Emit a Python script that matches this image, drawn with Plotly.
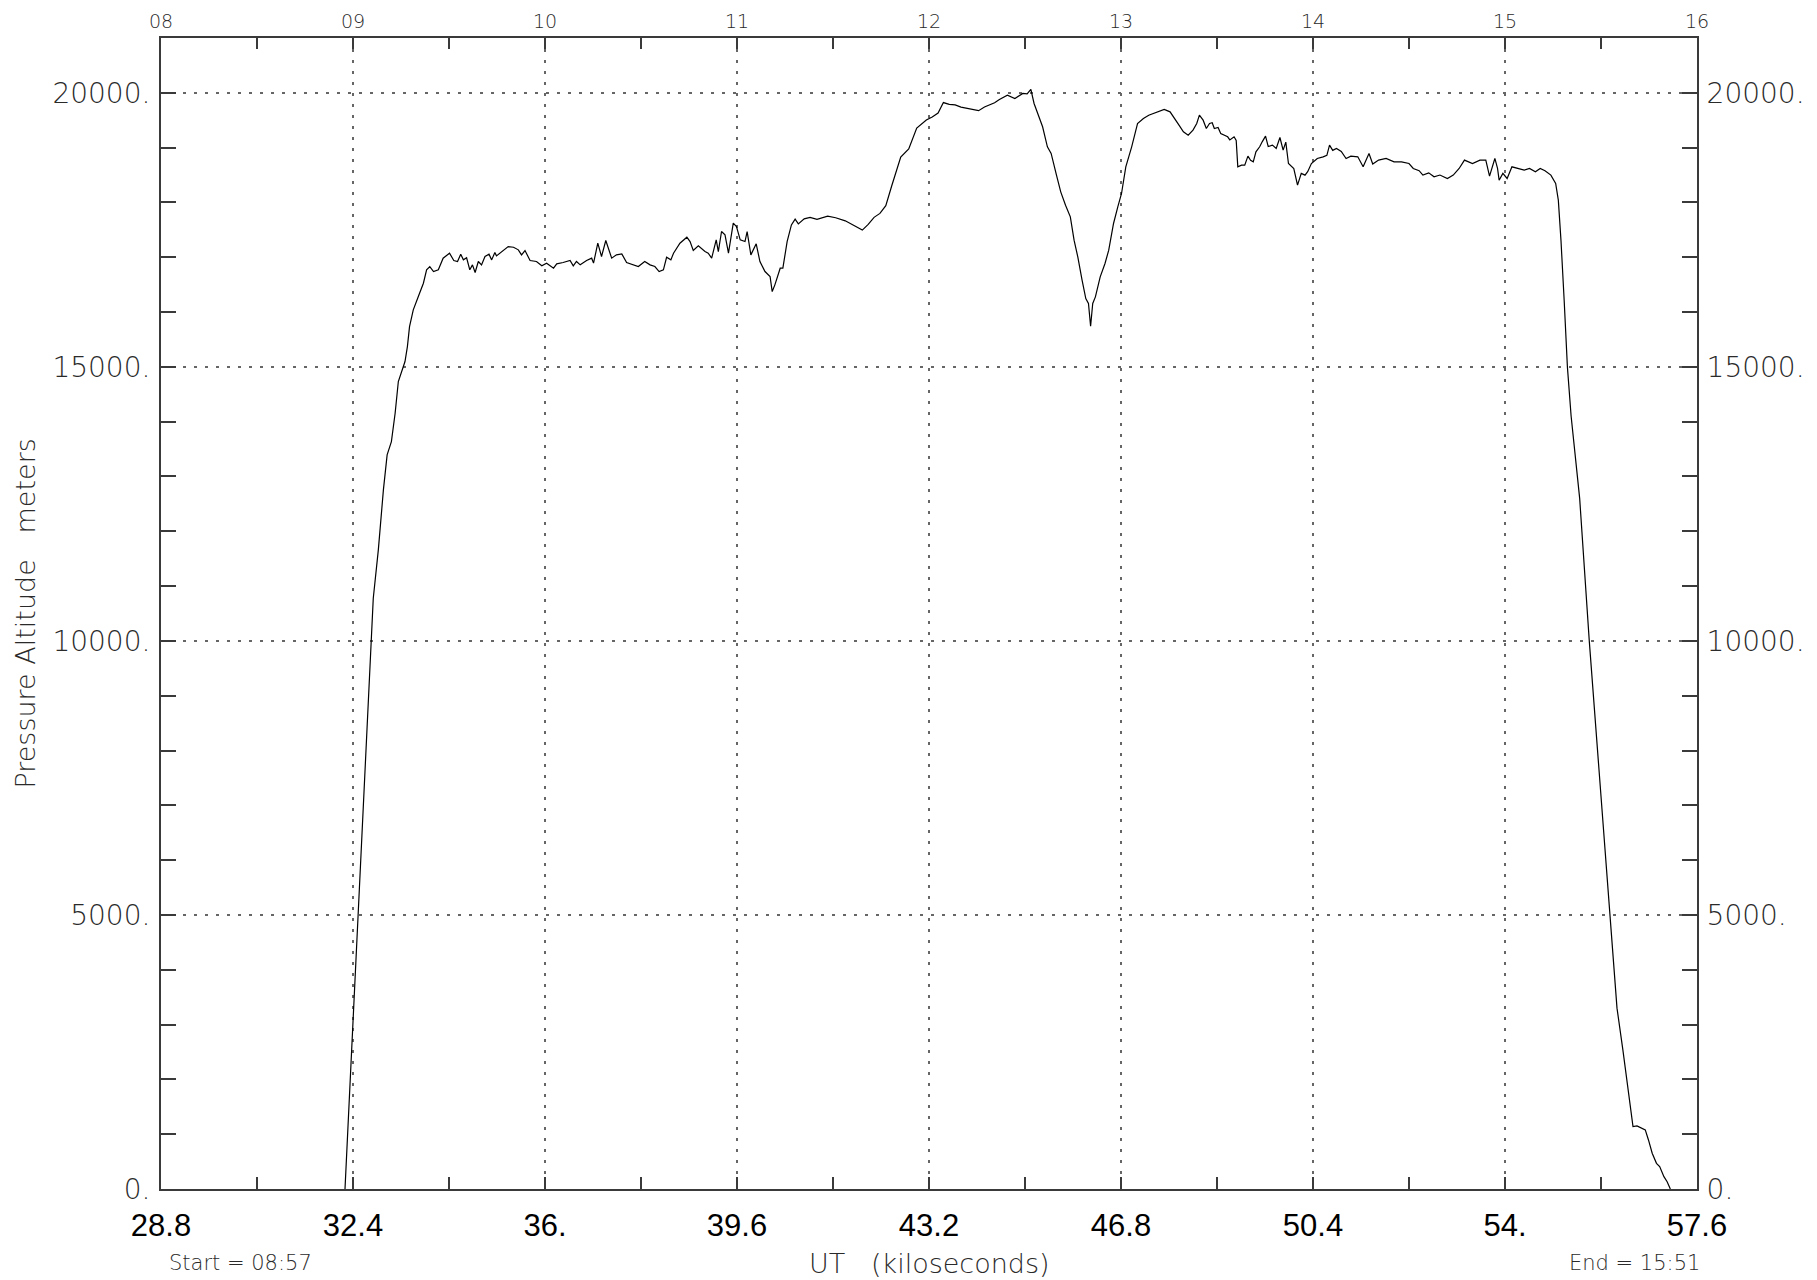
import plotly.graph_objects as go

# UT in kiloseconds and pressure altitude in meters
ut_ks = [32.25, 32.37, 32.49, 32.61, 32.73, 32.78, 32.875, 32.97, 33.04, 33.12, 33.19, 33.25,
         33.375, 33.42, 33.46, 33.53, 33.625, 33.72, 33.78, 33.84, 33.91, 34.0, 34.09, 34.21,
         34.29, 34.36, 34.42, 34.47, 34.53, 34.59, 34.64, 34.69, 34.75, 34.81, 34.875, 34.95,
         35.0, 35.06, 35.09, 35.22, 35.31, 35.41, 35.5, 35.56, 35.625, 35.72, 35.84, 35.94,
         36.03, 36.16, 36.22, 36.34, 36.47, 36.53, 36.59, 36.66, 36.78, 36.875, 36.91, 36.99,
         37.06, 37.14, 37.25, 37.34, 37.44, 37.53, 37.66, 37.75, 37.87, 37.97, 38.06, 38.14,
         38.22, 38.28, 38.36, 38.41, 38.53, 38.66, 38.72, 38.78, 38.875, 39.0, 39.06, 39.125,
         39.21, 39.25, 39.31, 39.375, 39.44, 39.53, 39.59, 39.66, 39.75, 39.79, 39.86, 39.96,
         40.03, 40.125, 40.22, 40.26, 40.31, 40.41, 40.46, 40.54, 40.62, 40.69, 40.75,
         40.86, 40.97, 41.1, 41.3, 41.45, 41.63, 41.84, 41.95, 42.06, 42.17, 42.28, 42.39,
         42.5, 42.67, 42.82, 42.97, 43.15, 43.26, 43.37, 43.47, 43.58, 43.69, 43.8, 43.91,
         44.02, 44.13, 44.24, 44.34, 44.43,
         44.52, 44.67, 44.81, 44.96, 45.04, 45.11, 45.17, 45.24, 45.33, 45.42, 45.49, 45.59,
         45.67, 45.76, 45.85, 45.92, 45.99, 46.07, 46.14, 46.19, 46.23, 46.27, 46.32, 46.41,
         46.5, 46.57, 46.66, 46.74, 46.81, 46.89, 47.0, 47.11, 47.22, 47.32, 47.47, 47.61,
         47.72, 47.81, 47.9, 47.97, 48.06, 48.15, 48.22, 48.27, 48.34, 48.4, 48.46, 48.51,
         48.55, 48.62, 48.67, 48.8, 48.84, 48.92, 48.96, 48.99, 49.06, 49.12, 49.18, 49.23,
         49.28, 49.33, 49.4, 49.45, 49.51, 49.56, 49.64, 49.71, 49.78, 49.84, 49.89, 49.94,
         50.04, 50.11, 50.18, 50.25, 50.3, 50.37, 50.48, 50.59, 50.66, 50.71, 50.77, 50.84,
         50.93, 51.02, 51.11, 51.24, 51.34, 51.45, 51.52, 51.63, 51.77, 51.92, 52.06, 52.2,
         52.28, 52.39, 52.46, 52.57, 52.67, 52.78, 52.92, 53.03, 53.14, 53.24, 53.39, 53.53,
         53.64, 53.71, 53.81, 53.86, 53.89, 53.96, 54.04, 54.13, 54.25, 54.36, 54.46, 54.57,
         54.66, 54.75, 54.86, 54.95, 55.0, 55.05, 55.11, 55.17, 55.24, 55.4, 55.58, 55.75,
         55.97, 56.1, 56.21, 56.29, 56.35, 56.4, 56.475, 56.54, 56.63, 56.69, 56.76, 56.84,
         56.9, 56.98, 57.04, 57.1]

altitude_m = [0, 2500, 5000, 7500, 10000, 10778, 11660, 12755, 13393, 13637, 14154, 14732,
              15097, 15370, 15735, 16040, 16283, 16526, 16770, 16830, 16740, 16770, 16982, 17074,
              16940, 16922, 17055, 16952, 16990, 16770, 16861, 16721, 16922, 16861, 17013, 17055,
              16952, 17086, 17025, 17135, 17195, 17183, 17135, 17043, 17122, 16940, 16922, 16843,
              16892, 16800, 16879, 16904, 16940, 16843, 16922, 16861, 16940, 16983, 16892, 17256,
              17013, 17305, 16983, 17043, 17062, 16904, 16861, 16831, 16922, 16861, 16831, 16739,
              16770, 17000, 16952, 17074, 17256, 17366, 17286, 17122, 17207, 17104, 17074, 16983,
              17317, 17104, 17469, 17408, 17074, 17621, 17560, 17317, 17286, 17469, 17043, 17244,
              16922, 16739, 16648, 16374, 16496, 16800, 16800, 17286, 17590, 17694, 17609,
              17700, 17728, 17690, 17749, 17720, 17664, 17559, 17495, 17600, 17728, 17800, 17940,
              18300, 18828, 18976, 19357, 19505, 19560, 19632, 19822, 19790, 19780, 19740, 19716,
              19700, 19674, 19740, 19780, 19820,
              19878, 19957, 19897, 19988, 19980, 20061, 19805, 19623, 19380, 19015, 18893, 18497,
              18193, 17950, 17737, 17311, 17007, 16581, 16247, 16156, 15742, 16156, 16277, 16642,
              16886, 17129, 17616, 17920, 18163, 18650, 19015, 19440, 19532, 19592, 19653, 19696,
              19653, 19532, 19392, 19288, 19227, 19319, 19440, 19592, 19501, 19349, 19440, 19453,
              19349, 19367, 19258, 19197, 19140, 19197, 19130, 18650, 18680, 18680, 18844, 18770,
              18740, 18923, 19015, 19110, 19209, 19020, 19045, 18985, 19185, 18954, 19100, 18710,
              18619, 18315, 18530, 18498, 18560, 18710, 18802, 18832, 18860, 19045, 18950, 18985,
              18930, 18802, 18845, 18832, 18650, 18893, 18700, 18772, 18802, 18741, 18741, 18710,
              18619, 18580, 18498, 18540, 18467, 18500, 18437, 18498, 18619, 18772, 18710, 18772,
              18772, 18480, 18802, 18620, 18406, 18530, 18437, 18650, 18619, 18589, 18620, 18558,
              18620, 18577, 18498, 18345, 18041, 17300, 16200, 15000, 14100, 12600, 10000, 7800,
              5000, 3300, 2539, 1930, 1443, 1139, 1151, 1126, 1078, 895, 652, 469,
              408, 225, 134, 0]

x_ticks_ks = [28.8, 32.4, 36.0, 39.6, 43.2, 46.8, 50.4, 54.0, 57.6]
x_tick_text = ["28.8", "32.4", "36.", "39.6", "43.2", "46.8", "50.4", "54.", "57.6"]
hour_ticks = [8, 9, 10, 11, 12, 13, 14, 15, 16]
hour_text = ["08", "09", "10", "11", "12", "13", "14", "15", "16"]
y_ticks = [0, 5000, 10000, 15000, 20000]
y_tick_text = ["0.", "5000.", "10000.", "15000.", "20000."]

thin = dict(family="DejaVu Sans", weight=200, color="#2a2a2a")
axis_col = "#3a3a3a"
grid_col = "#666666"

fig = go.Figure()
fig.add_trace(go.Scatter(x=ut_ks, y=altitude_m, mode="lines",
                         line=dict(color="black", width=1.2),
                         xaxis="x", yaxis="y", showlegend=False, hoverinfo="skip"))
# invisible companion trace (same data in hours) to activate the top/right axes
fig.add_trace(go.Scatter(x=[v / 3.6 for v in ut_ks], y=altitude_m, mode="lines",
                         line=dict(color="rgba(0,0,0,0)", width=0),
                         xaxis="x2", yaxis="y2", showlegend=False, hoverinfo="skip"))

# the page body adds an 8px offset; compensate so the plot lands at 161..1697 x 38..1189
fig.update_layout(
    width=1809, height=1272, autosize=False,
    margin=dict(l=153, r=120, t=30, b=91, pad=0, autoexpand=False),
    paper_bgcolor="white", plot_bgcolor="white",
    showlegend=False,
    xaxis=dict(range=[28.8, 57.6], tickmode="array", tickvals=x_ticks_ks, ticktext=x_tick_text,
               ticks="inside", ticklen=12, tickwidth=1.5, tickcolor=axis_col, automargin=False,
               showline=True, linecolor=axis_col, linewidth=2, zeroline=False,
               showgrid=True, gridcolor=grid_col, gridwidth=1.6, griddash="3px,8px",
               tickfont=dict(family="Liberation Sans", size=31, color="black"),
               ticklabelstandoff=8,
               minor=dict(dtick=1.8, tick0=28.8, ticks="inside", ticklen=12,
                          tickwidth=1.5, tickcolor=axis_col, showgrid=False)),
    yaxis=dict(range=[0, 21000], tickmode="array", tickvals=y_ticks, ticktext=y_tick_text,
               ticks="inside", ticklen=12, tickwidth=1.5, tickcolor=axis_col, automargin=False,
               showline=True, linecolor=axis_col, linewidth=2, zeroline=False,
               showgrid=True, gridcolor=grid_col, gridwidth=1.6, griddash="3px,8px",
               tickfont=dict(size=28, **thin), ticklabelstandoff=3,
               minor=dict(dtick=1000, tick0=0, ticks="inside", ticklen=15,
                          tickwidth=1.5, tickcolor=axis_col, showgrid=False)),
    xaxis2=dict(overlaying="x", side="top", range=[8, 16], tickmode="array",
                tickvals=hour_ticks, ticktext=hour_text, automargin=False,
                ticks="inside", ticklen=11, tickwidth=1.5, tickcolor=axis_col,
                showline=True, linecolor=axis_col, linewidth=2, zeroline=False,
                showgrid=False, tickfont=dict(size=19, **thin), ticklabelstandoff=0,
                minor=dict(dtick=0.5, tick0=8, ticks="inside", ticklen=11,
                           tickwidth=1.5, tickcolor=axis_col, showgrid=False)),
    yaxis2=dict(overlaying="y", side="right", range=[0, 21000], tickmode="array",
                tickvals=y_ticks, ticktext=y_tick_text, automargin=False,
                ticks="inside", ticklen=12, tickwidth=1.5, tickcolor=axis_col,
                showline=True, linecolor=axis_col, linewidth=2, zeroline=False,
                showgrid=False, tickfont=dict(size=28, **thin), ticklabelstandoff=2,
                minor=dict(dtick=1000, tick0=0, ticks="inside", ticklen=15,
                           tickwidth=1.5, tickcolor=axis_col, showgrid=False)),
)

nb = "\u00a0"
fig.add_annotation(text="Pressure Altitude" + nb * 3 + "meters", textangle=-90,
                   xref="paper", yref="paper", x=-0.0885, y=0.5,
                   xanchor="center", yanchor="middle", showarrow=False,
                   font=dict(size=27, **thin))
fig.add_annotation(text="UT" + nb * 3 + "(kiloseconds)",
                   xref="paper", yref="paper", x=0.5, y=-0.0643,
                   xanchor="center", yanchor="middle", showarrow=False,
                   font=dict(size=27, **thin))
fig.add_annotation(text="Start" + nb + "=" + nb + "08:57",
                   xref="paper", yref="paper", x=0.004, y=-0.0643,
                   xanchor="left", yanchor="middle", showarrow=False,
                   font=dict(size=21, **thin))
fig.add_annotation(text="End" + nb + "=" + nb + "15:51",
                   xref="paper", yref="paper", x=1.003, y=-0.0643,
                   xanchor="right", yanchor="middle", showarrow=False,
                   font=dict(size=21, **thin))

fig.write_html("out.html")
